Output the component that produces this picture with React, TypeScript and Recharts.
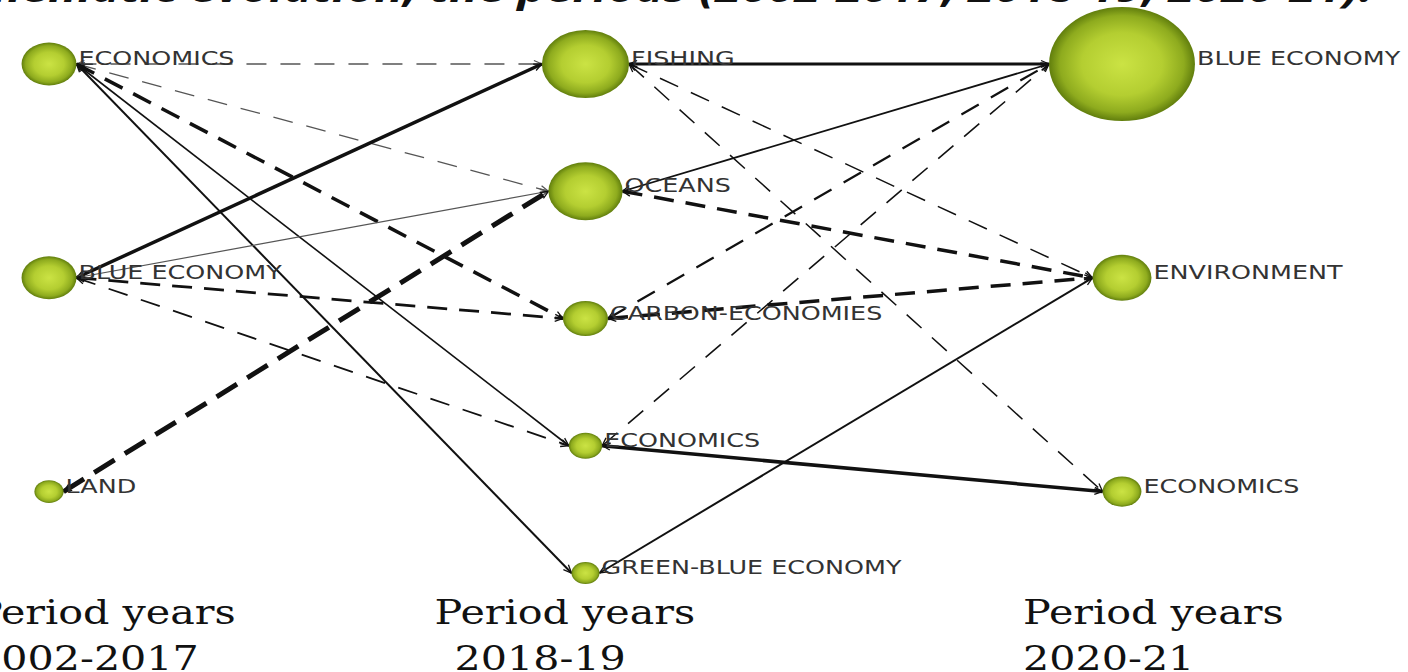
import React from 'react';
import { ScatterChart, Scatter, XAxis, YAxis, ReferenceLine } from 'recharts';

// ---------- data ----------
const periods = ['2002-2017', '2018-19', '2020-21'];
const periodHeading = 'Period years';
const titleText =
  'Figure 5. Thematic evolution, the periods (2002-2017, 2018-19, 2020-21).';

// period 1 (2002-2017)
const topicsP1 = ['ECONOMICS', 'BLUE ECONOMY', 'LAND'];
const weightsP1 = [46, 46, 13];
const rowsP1 = [0, 42, 84];

// period 2 (2018-19)
const topicsP2 = ['FISHING', 'OCEANS', 'CARBON-ECONOMIES', 'ECONOMICS', 'GREEN-BLUE ECONOMY'];
const weightsP2 = [116, 84, 31, 17, 12];
const rowsP2 = [0, 25, 50, 75, 100];

// period 3 (2020-21)
const topicsP3 = ['BLUE ECONOMY', 'ENVIRONMENT', 'ECONOMICS'];
const weightsP3 = [325, 53, 23];
const rowsP3 = [0, 42, 84];

type Link = { source: string; target: string; weight: number; dashed: boolean };

// links period 1 -> period 2
const linksP1P2: Link[] = [
  { source: 'ECONOMICS', target: 'FISHING', weight: 1.4, dashed: true },
  { source: 'ECONOMICS', target: 'OCEANS', weight: 1.3, dashed: true },
  { source: 'ECONOMICS', target: 'CARBON-ECONOMIES', weight: 3.5, dashed: true },
  { source: 'ECONOMICS', target: 'ECONOMICS', weight: 1.6, dashed: false },
  { source: 'ECONOMICS', target: 'GREEN-BLUE ECONOMY', weight: 2, dashed: false },
  { source: 'BLUE ECONOMY', target: 'FISHING', weight: 3.5, dashed: false },
  { source: 'BLUE ECONOMY', target: 'OCEANS', weight: 1.2, dashed: false },
  { source: 'BLUE ECONOMY', target: 'CARBON-ECONOMIES', weight: 2.8, dashed: true },
  { source: 'BLUE ECONOMY', target: 'ECONOMICS', weight: 1.8, dashed: true },
  { source: 'LAND', target: 'OCEANS', weight: 5, dashed: true },
];

// links period 2 -> period 3
const linksP2P3: Link[] = [
  { source: 'FISHING', target: 'BLUE ECONOMY', weight: 3, dashed: false },
  { source: 'FISHING', target: 'ENVIRONMENT', weight: 1.5, dashed: true },
  { source: 'FISHING', target: 'ECONOMICS', weight: 1.5, dashed: true },
  { source: 'OCEANS', target: 'BLUE ECONOMY', weight: 1.8, dashed: false },
  { source: 'OCEANS', target: 'ENVIRONMENT', weight: 3.5, dashed: true },
  { source: 'CARBON-ECONOMIES', target: 'BLUE ECONOMY', weight: 2.2, dashed: true },
  { source: 'CARBON-ECONOMIES', target: 'ENVIRONMENT', weight: 3.5, dashed: true },
  { source: 'ECONOMICS', target: 'BLUE ECONOMY', weight: 1.6, dashed: true },
  { source: 'ECONOMICS', target: 'ECONOMICS', weight: 3.5, dashed: false },
  { source: 'GREEN-BLUE ECONOMY', target: 'ENVIRONMENT', weight: 2, dashed: false },
];

// ---------- derived tables ----------
type NodeDatum = { key: string; topic: string; period: number; row: number; weight: number };

const periodTables = [
  { topics: topicsP1, weights: weightsP1, rows: rowsP1 },
  { topics: topicsP2, weights: weightsP2, rows: rowsP2 },
  { topics: topicsP3, weights: weightsP3, rows: rowsP3 },
];

const nodes: NodeDatum[] = periodTables.flatMap((t, p) =>
  t.topics.map((topic, i) => ({
    key: `n${p}-${i}`,
    topic,
    period: p,
    row: t.rows[i],
    weight: t.weights[i],
  }))
);

const findNode = (period: number, topic: string) =>
  nodes.find((n) => n.period === period && n.topic === topic) as NodeDatum;

const edges = [
  ...linksP1P2.map((l) => ({ ...l, from: findNode(0, l.source), to: findNode(1, l.target) })),
  ...linksP2P3.map((l) => ({ ...l, from: findNode(1, l.source), to: findNode(2, l.target) })),
];

// ---------- styling ----------
const STRETCH = 1.28;
const radiusOf = (w: number) => Math.sqrt(w * 10);
const headingOffsets = [-74, -151, -99];
const periodOffsets = [-74, -131, -99];

const edgeColor = (w: number) => (w < 1.45 ? '#555555' : '#111111');
const edgeDash = (w: number, dashed: boolean) =>
  !dashed ? undefined : w >= 4.5 ? '24 12' : w >= 2.5 ? '20 12' : '20 14';

function makeEdgeShape(edge: (typeof edges)[number], idx: number) {
  return (p: any) => {
    const rs = radiusOf(edge.from.weight) * STRETCH;
    const rt = radiusOf(edge.to.weight) * STRETCH;
    const x1 = p.x1 + rs;
    const x2 = p.x2 - rt;
    const color = edgeColor(edge.weight);
    const mid = `arrow-${idx}`;
    return (
      <g>
        <defs>
          <marker
            id={mid}
            markerUnits="userSpaceOnUse"
            markerWidth={10}
            markerHeight={10}
            viewBox="0 0 10 10"
            refX={9}
            refY={5}
            orient="auto-start-reverse"
          >
            <path d="M1,1.5 L9,5 L1,8.5" fill="none" stroke={color} strokeWidth={1.3} />
          </marker>
        </defs>
        <line
          x1={x1}
          y1={p.y1}
          x2={x2}
          y2={p.y2}
          stroke={color}
          strokeWidth={edge.weight}
          strokeDasharray={edgeDash(edge.weight, edge.dashed)}
          markerStart={`url(#${mid})`}
          markerEnd={`url(#${mid})`}
        />
      </g>
    );
  };
}

function NodeShape(props: any) {
  const { cx, cy, payload } = props;
  const r = radiusOf(payload.weight);
  const rx = r * STRETCH;
  const gid = `grad-${payload.key}`;
  return (
    <g>
      <defs>
        <radialGradient id={gid} cx="50%" cy="50%" r="50%">
          <stop offset="0%" stopColor="#cbe344" />
          <stop offset="55%" stopColor="#b4ce31" />
          <stop offset="85%" stopColor="#8eab1e" />
          <stop offset="100%" stopColor="#617e0d" />
        </radialGradient>
      </defs>
      <ellipse cx={cx} cy={cy} rx={rx} ry={r} fill={`url(#${gid})`} />
      <text
        transform={`translate(${cx + rx + 2},${cy + 1}) scale(1.27,1)`}
        fontFamily="DejaVu Sans, Verdana, sans-serif"
        fontSize={20}
        fill="#333333"
      >
        {payload.topic}
      </text>
    </g>
  );
}

function PeriodTick(props: any) {
  const { x, y, payload } = props;
  const i = Math.round(payload.value);
  return (
    <g>
      <text
        transform={`translate(${x + headingOffsets[i]},${y + 51}) scale(1.25,1)`}
        fontFamily="DejaVu Serif, serif"
        fontSize={33}
        fill="#111"
      >
        {periodHeading}
      </text>
      <text
        transform={`translate(${x + periodOffsets[i]},${y + 97}) scale(1.25,1)`}
        fontFamily="DejaVu Serif, serif"
        fontSize={33}
        fill="#111"
      >
        {periods[i]}
      </text>
    </g>
  );
}

export default function App() {
  return (
    <div
      style={{
        position: 'absolute',
        left: 0,
        top: 0,
        width: 1408,
        height: 672,
        overflow: 'hidden',
        background: '#fff',
      }}
    >
      <div
        style={{
          position: 'absolute',
          right: 35,
          top: -33,
          fontFamily: 'Open Sans, sans-serif',
          fontStyle: 'italic',
          fontWeight: 700,
          fontSize: 40,
          lineHeight: '40px',
          whiteSpace: 'nowrap',
          color: '#111',
          transform: 'scaleX(1.2)',
          transformOrigin: 'right center',
        }}
      >
        {titleText}
      </div>
      <ScatterChart
        width={1408}
        height={672}
        margin={{ top: 64, right: 286, bottom: 0, left: 49 }}
        style={{ position: 'absolute', left: 0, top: 0 }}
      >
        <XAxis
          type="number"
          dataKey="period"
          domain={[0, 2]}
          ticks={[0, 1, 2]}
          interval={0}
          axisLine={false}
          tickLine={false}
          tickSize={0}
          tickMargin={0}
          height={99}
          tick={PeriodTick}
        />
        <YAxis type="number" dataKey="row" domain={[0, 100]} reversed hide />
        {edges.map((e, i) => (
          <ReferenceLine
            key={`edge-${i}`}
            segment={[
              { x: e.from.period, y: e.from.row },
              { x: e.to.period, y: e.to.row },
            ]}
            ifOverflow="visible"
            shape={makeEdgeShape(e, i)}
          />
        ))}
        <Scatter data={nodes} shape={NodeShape} isAnimationActive={false} />
      </ScatterChart>
    </div>
  );
}
